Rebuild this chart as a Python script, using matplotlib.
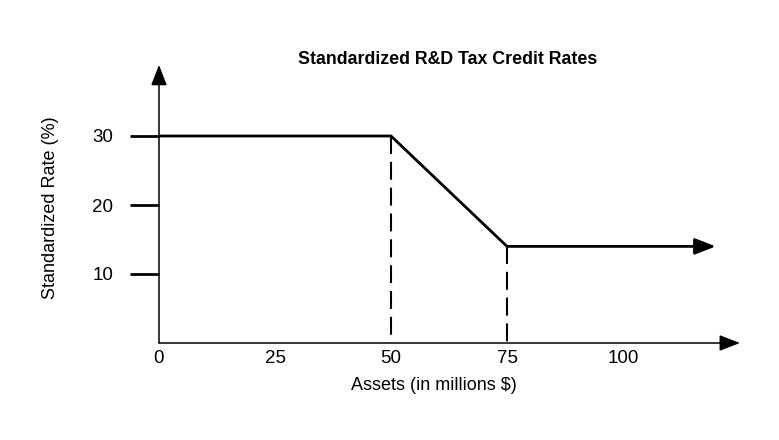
import matplotlib
matplotlib.use("Agg")
import matplotlib.pyplot as plt

plt.rcParams['font.family'] = ['Liberation Sans', 'DejaVu Sans']

# Data
assets = [0, 50, 75, 120]
rates = [30, 30, 14, 14]
dashed_x = [50, 75]
dashed_y = [30, 14]
x_ticks = [0, 25, 50, 75, 100]
y_ticks = [10, 20, 30]

title = "Standardized R&D Tax Credit Rates"
xlabel = "Assets (in millions $)"
ylabel = "Standardized Rate (%)"

W, H = 779, 440
fig = plt.figure(figsize=(W / 100, H / 100), dpi=100)
x0, y0 = 159, 343
xmax, ymax = 125.2, 40.3
pxx, pxy = 4.64, 6.9
ax = fig.add_axes([x0 / W, (H - y0) / H, xmax * pxx / W, ymax * pxy / H])
ax.set_xlim(0, xmax)
ax.set_ylim(0, ymax)
for s in ax.spines.values():
    s.set_visible(False)

# axis arrows
arrow_kw = dict(arrowstyle='-|>,head_length=0.9,head_width=0.35', color='black', lw=1.1,
                shrinkA=0, shrinkB=0, mutation_scale=14)
ax.annotate('', xy=(1, 0), xytext=(0, 0), xycoords='axes fraction',
            textcoords='axes fraction', arrowprops=arrow_kw, annotation_clip=False)
ax.annotate('', xy=(0, 1), xytext=(0, 0), xycoords='axes fraction',
            textcoords='axes fraction', arrowprops=arrow_kw, annotation_clip=False)

# main line
ax.plot(assets[:-1], rates[:-1], color='black', lw=2.0, solid_capstyle='butt', clip_on=False)
ax.annotate('', xy=(assets[-1], rates[-1]), xytext=(assets[-2], rates[-2]),
            arrowprops=dict(arrowstyle='-|>,head_length=0.9,head_width=0.35', color='black',
                            lw=2.0, shrinkA=0, shrinkB=0, mutation_scale=14),
            annotation_clip=False)

# dashed verticals
for dx, dy in zip(dashed_x, dashed_y):
    ax.plot([dx, dx], [dy, 0], color='black', lw=1.5, linestyle=(0, (8.6, 3.8)), clip_on=False)

ax.set_xticks(x_ticks)
ax.set_xticklabels([str(v) for v in x_ticks])
ax.set_yticks(y_ticks)
ax.set_yticklabels([str(v) for v in y_ticks])
ax.tick_params(axis='x', length=0, pad=5, labelsize=13.5)
ax.tick_params(axis='y', length=21, width=2.0, pad=12, labelsize=13.5, direction='out')

ax.set_xlabel(xlabel, fontsize=13, labelpad=7, x=0.474)
ax.set_ylabel(ylabel, fontsize=13, labelpad=24, y=0.485)
fig.text(448 / W, 1 - 59 / H, title, fontsize=12.8, fontweight='bold', ha='center', va='center')

fig.savefig('out.png', dpi=100)
